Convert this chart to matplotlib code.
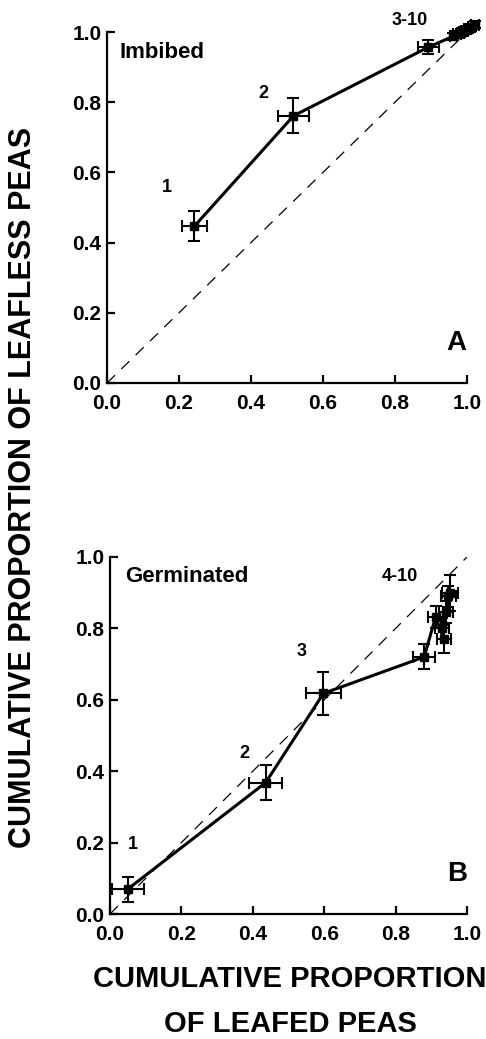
import matplotlib
matplotlib.use("Agg")
import matplotlib.pyplot as plt

plt.rcParams['font.family'] = ['Liberation Sans', 'DejaVu Sans']
plt.rcParams['font.weight'] = 'bold'

# Panel A - imbibed seeds, census 1..10
imb_x = [0.243, 0.518, 0.893, 0.962, 0.972, 0.982, 0.992, 1.002, 1.012, 1.022]
imb_y = [0.447, 0.761, 0.957, 0.988, 0.993, 0.998, 1.003, 1.008, 1.013, 1.02]
imb_xerr = [0.034, 0.043, 0.03, 0.01, 0.01, 0.01, 0.01, 0.01, 0.01, 0.01]
imb_yerr = [0.043, 0.05, 0.02, 0.01, 0.01, 0.01, 0.01, 0.01, 0.01, 0.01]

# Panel B - germinated seeds
ger_x = [0.05, 0.436, 0.598, 0.88, 0.912, 0.935, 0.93, 0.942, 0.948, 0.953]
ger_y = [0.07, 0.368, 0.618, 0.72, 0.832, 0.77, 0.80, 0.846, 0.89, 0.90]
ger_xerr = [0.045, 0.047, 0.05, 0.03, 0.02, 0.02, 0.02, 0.02, 0.02, 0.022]
ger_yerr = [0.035, 0.05, 0.06, 0.035, 0.03, 0.04, 0.03, 0.03, 0.03, 0.05]

ticks = [0.0, 0.2, 0.4, 0.6, 0.8, 1.0]

fig = plt.figure(figsize=(4.86, 10.39), dpi=100)
axA = fig.add_axes([107/486, 1 - 383/1039, 360/486, 351/1039])
axB = fig.add_axes([110/486, 1 - 914/1039, 357/486, 357/1039])


def style(ax):
    ax.set_xlim(0, 1)
    ax.set_ylim(0, 1)
    for s in ['top', 'right']:
        ax.spines[s].set_visible(False)
    for s in ['left', 'bottom']:
        ax.spines[s].set_linewidth(1.6)
    ax.set_xticks(ticks)
    ax.set_yticks(ticks)
    ax.set_xticklabels(['%.1f' % t for t in ticks])
    ax.set_yticklabels(['%.1f' % t for t in ticks])
    ax.tick_params(direction='in', length=6, width=1.6, labelsize=15, pad=4)
    ax.tick_params(axis='x', pad=8)
    ax.plot([0, 1], [0, 1], color='black', lw=0.9, dashes=(9, 7))


def draw(ax, x, y, xe, ye):
    ax.plot(x, y, color='black', lw=2.2, clip_on=False, zorder=3)
    ax.errorbar(x, y, xerr=xe, yerr=ye, fmt='s', color='black', ms=6,
                elinewidth=1.5, capsize=4, capthick=1.5, clip_on=False, zorder=4)


style(axA)
draw(axA, imb_x, imb_y, imb_xerr, imb_yerr)
axA.text(0.036, 0.943, 'Imbibed', fontsize=16, va='center', ha='left')
axA.text(0.167, 0.556, '1', fontsize=13, ha='center', va='center')
axA.text(0.433, 0.826, '2', fontsize=13, ha='center', va='center')
axA.text(0.842, 1.034, '3-10', fontsize=13, ha='center', va='center')
axA.text(0.97, 0.114, 'A', fontsize=20, ha='center', va='center')

style(axB)
draw(axB, ger_x, ger_y, ger_xerr, ger_yerr)
axB.text(0.042, 0.945, 'Germinated', fontsize=16, va='center', ha='left')
axB.text(0.063, 0.195, '1', fontsize=13, ha='center', va='center')
axB.text(0.377, 0.45, '2', fontsize=13, ha='center', va='center')
axB.text(0.537, 0.735, '3', fontsize=13, ha='center', va='center')
axB.text(0.813, 0.945, '4-10', fontsize=13, ha='center', va='center')
axB.text(0.972, 0.112, 'B', fontsize=20, ha='center', va='center')

fig.text(0.047, 1 - 487/1039, 'CUMULATIVE PROPORTION OF LEAFLESS PEAS',
         rotation=90, fontsize=22, ha='center', va='center')
fig.text(290/486, 1 - 979/1039, 'CUMULATIVE PROPORTION',
         fontsize=21, ha='center', va='center')
fig.text(290/486, 1 - 1024/1039, 'OF LEAFED PEAS',
         fontsize=21, ha='center', va='center')

fig.savefig('out.png', dpi=100)
